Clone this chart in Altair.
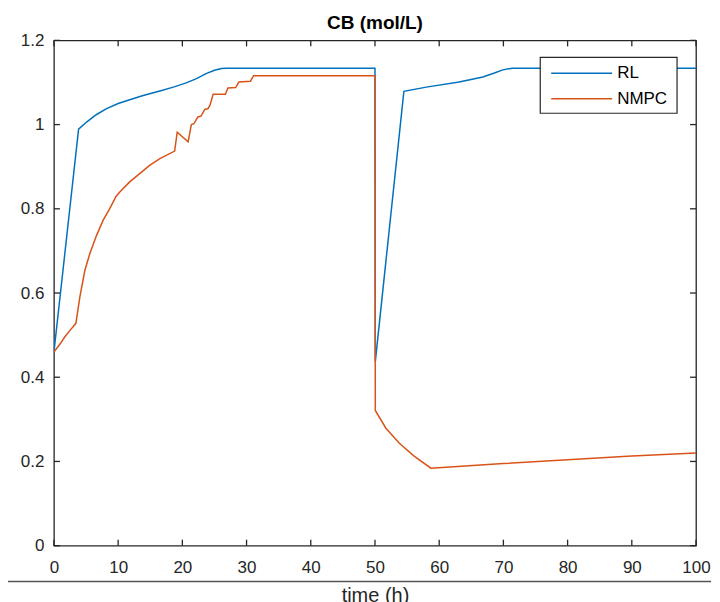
import altair as alt
import pandas as pd

# ---- data ----
rl_t = [0, 3.84, 5.08, 6.64, 8.2, 10, 11.8, 13.9, 16.5, 18.6, 20.6, 22.2, 23.7, 25.0,
        26.1, 26.8, 50, 50.05, 54.5, 58, 63.1, 66.8, 68.5, 69.9, 71.4, 72.5, 100]
rl_y = [0.46, 0.989, 1.006, 1.024, 1.038, 1.050, 1.059, 1.069, 1.080, 1.089, 1.099,
        1.109, 1.121, 1.129, 1.133, 1.134, 1.134, 0.437, 1.079, 1.089, 1.101, 1.113,
        1.122, 1.130, 1.134, 1.134, 1.134]

nmpc_t = [0, 1, 1.7, 2.6, 3.42, 4.04, 4.82, 5.6, 6.64, 7.67, 8.71, 9.49, 9.6, 10.26,
          11.8, 13.4, 14.9, 16.5, 18.8, 19.2, 20.9, 21.4, 21.8, 22.4, 22.9, 23.5, 24.0,
          24.3, 24.8, 26.7, 27.1, 28.3, 28.8, 30.6, 31.1, 50, 50.05, 51.7, 53.8, 56,
          58.7, 70, 80, 90, 100]
nmpc_y = [0.46, 0.48, 0.496, 0.513, 0.528, 0.591, 0.654, 0.694, 0.737, 0.773, 0.801,
          0.824, 0.828, 0.840, 0.864, 0.884, 0.903, 0.919, 0.937, 0.982, 0.959, 1.000,
          1.002, 1.018, 1.020, 1.036, 1.038, 1.046, 1.072, 1.072, 1.087, 1.088, 1.101,
          1.103, 1.116, 1.116, 0.321, 0.279, 0.243, 0.214, 0.184, 0.195, 0.204, 0.213,
          0.220]

series_names = ["RL", "NMPC"]
series_colors = ["#0072BD", "#D95319"]
x_ticks = [0, 10, 20, 30, 40, 50, 60, 70, 80, 90, 100]
y_ticks = [0, 0.2, 0.4, 0.6, 0.8, 1.0, 1.2]
title_text = "CB (mol/L)"
x_title = "time (h)"

rows = []
for i, (t, y) in enumerate(zip(rl_t, rl_y)):
    rows.append({"series": "RL", "t": t, "c": y, "k": i})
for i, (t, y) in enumerate(zip(nmpc_t, nmpc_y)):
    rows.append({"series": "NMPC", "t": t, "c": y, "k": i})
df = pd.DataFrame(rows)

W, H = 643, 506
FONT = "Liberation Sans"
AX = "#262626"

xscale = alt.Scale(domain=[0, 100], nice=False, zero=False)
yscale = alt.Scale(domain=[0, 1.2], nice=False, zero=False)

xaxis = alt.Axis(values=x_ticks, format="d", tickSize=0, domain=False, grid=False,
                 labelFontSize=17, labelColor=AX, labelFont=FONT, labelPadding=14,
                 labelFlush=False, labelOverlap=False,
                 title=x_title, titleFont=FONT, titleFontSize=20,
                 titleFontWeight="normal", titleColor=AX, titleY=56,
                 titleBaseline="alphabetic")
yaxis = alt.Axis(values=y_ticks, format="~g", tickSize=0, domain=False, grid=False,
                 labelFontSize=17, labelColor=AX, labelFont=FONT, labelPadding=10,
                 labelFlush=False, labelOverlap=False, title=None)

X = alt.X("t:Q", scale=xscale, axis=xaxis)
Y = alt.Y("c:Q", scale=yscale, axis=yaxis)

lines = alt.Chart(df).mark_line(strokeWidth=1.5, clip=True).encode(
    x=X, y=Y,
    color=alt.Color("series:N", scale=alt.Scale(domain=series_names, range=series_colors),
                    legend=None),
    detail="series:N",
    order="k:Q",
)
rl_line = lines.transform_filter(alt.datum.series == "RL")
nmpc_line = lines.transform_filter(alt.datum.series == "NMPC")

xt = pd.DataFrame({"t": x_ticks})
yt = pd.DataFrame({"c": y_ticks})
tick_style = dict(color=AX, strokeWidth=1.3)
xb = alt.Chart(xt).mark_rule(**tick_style).encode(x=X, y=alt.value(H - 6), y2=alt.value(H))
xtop = alt.Chart(xt).mark_rule(**tick_style).encode(x=X, y=alt.value(0), y2=alt.value(6))
yl = alt.Chart(yt).mark_rule(**tick_style).encode(y=Y, x=alt.value(0), x2=alt.value(6))
yr = alt.Chart(yt).mark_rule(**tick_style).encode(y=Y, x=alt.value(W - 6), x2=alt.value(W))

# ---- legend (drawn box, MATLAB style) ----
leg_df = pd.DataFrame({"series": series_names, "row": [0, 1]})
legend_box = alt.Chart(pd.DataFrame({"a": [0]})).mark_rect(
    fill="white", stroke=AX, strokeWidth=1.2).encode(
    x=alt.value(487), x2=alt.value(624), y=alt.value(17), y2=alt.value(73))
leg_parts = []
for name, col, yy in zip(series_names, series_colors, [33, 58.5]):
    sub = alt.Chart(leg_df).transform_filter(alt.datum.series == name)
    leg_parts.append(sub.mark_rule(color=col, strokeWidth=1.5).encode(
        x=alt.value(498), x2=alt.value(559), y=alt.value(yy)))
    leg_parts.append(sub.mark_text(align="left", baseline="middle", font=FONT,
                                   fontSize=17, color="#000").encode(
        x=alt.value(564), y=alt.value(yy), text="series:N"))

# title as text above the plot
title_mark = alt.Chart(pd.DataFrame({"title": [title_text]})).mark_text(
    align="center", baseline="alphabetic", font=FONT, fontSize=19, fontWeight="bold",
    color="#000").encode(x=alt.value(W / 2), y=alt.value(-11.5), text="title:N")

# gray separator line near the bottom of the figure
sep = alt.Chart(pd.DataFrame({"a": [0]})).mark_rule(color="#555555", strokeWidth=1.5).encode(
    x=alt.value(-46), x2=alt.value(658), y=alt.value(542))

chart = alt.layer(
    rl_line, nmpc_line, xb, xtop, yl, yr, legend_box, *leg_parts, title_mark, sep
).properties(
    width=W, height=H,
    background="white",
    autosize=alt.AutoSizeParams(type="none"),
    padding={"left": 46, "top": 32, "right": 16, "bottom": 56},
).configure_view(
    stroke=AX, strokeWidth=1.3
)

chart.save("out.html", embed_options={"renderer": "svg", "actions": False})
